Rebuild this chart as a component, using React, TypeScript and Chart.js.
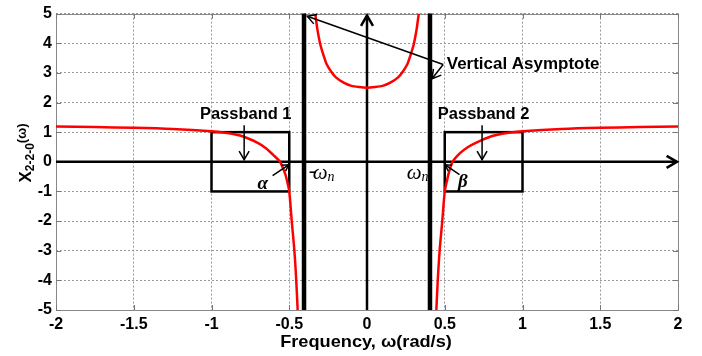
import React, { useEffect, useRef } from "react";
import { Chart, registerables } from "chart.js";
Chart.register(...registerables);

// Curve samples
const leftX = [-2, -1.75, -1.5, -1.25, -1, -0.9, -0.8, -0.7, -0.65, -0.6, -0.56, -0.53, -0.515, -0.5, -0.484, -0.467, -0.455, -0.446];
const leftY = [1.19, 1.17, 1.15, 1.11, 1.03, 0.97, 0.86, 0.63, 0.46, 0.22, 0, -0.35, -0.62, -1, -2, -3, -4, -5];
const centerX = [-0.333, -0.32, -0.31, -0.3, -0.28, -0.26, -0.23, -0.2, -0.15, -0.1, -0.05, 0, 0.05, 0.1, 0.15, 0.2, 0.23, 0.26, 0.28, 0.3, 0.31, 0.32, 0.333];
const centerY = [5, 4.5, 4.2, 3.95, 3.6, 3.3, 3.04, 2.85, 2.67, 2.56, 2.52, 2.5, 2.52, 2.56, 2.67, 2.85, 3.04, 3.3, 3.6, 3.95, 4.2, 4.5, 5];
const rightX = [0.446, 0.455, 0.467, 0.484, 0.5, 0.515, 0.53, 0.55, 0.6, 0.65, 0.7, 0.8, 0.9, 1, 1.25, 1.5, 1.75, 2];
const rightY = [-5, -4, -3, -2, -1, -0.62, -0.3, 0, 0.3, 0.5, 0.64, 0.86, 0.97, 1.03, 1.11, 1.15, 1.17, 1.19];

const asymptotes = [-0.405, 0.405];
const passbands = [[-1, -0.5], [0.5, 1]];
const passbandY = [-1, 1];
const xMin = -2, xMax = 2, xStep = 0.5;
const yMin = -5, yMax = 5, yStep = 1;

const FONT = "'Liberation Sans', Arial, sans-serif";
const SERIF = "'Liberation Serif', 'Times New Roman', serif";

function zip(xs: number[], ys: number[]) {
  return xs.map((x, i) => ({ x, y: ys[i] }));
}

function arrowHead(ctx: CanvasRenderingContext2D, x1: number, y1: number, x2: number, y2: number, len: number, ang: number) {
  const a = Math.atan2(y2 - y1, x2 - x1);
  ctx.beginPath();
  ctx.moveTo(x2 - len * Math.cos(a - ang), y2 - len * Math.sin(a - ang));
  ctx.lineTo(x2, y2);
  ctx.lineTo(x2 - len * Math.cos(a + ang), y2 - len * Math.sin(a + ang));
  ctx.stroke();
}

function arrow(ctx: CanvasRenderingContext2D, x1: number, y1: number, x2: number, y2: number, w: number, len: number) {
  ctx.lineWidth = w;
  ctx.beginPath();
  ctx.moveTo(x1, y1);
  ctx.lineTo(x2, y2);
  ctx.stroke();
  arrowHead(ctx, x1, y1, x2, y2, len, Math.PI / 6);
}

function stretchText(ctx: CanvasRenderingContext2D, t: string, x: number, y: number, sx: number, align: "left" | "center") {
  ctx.save();
  ctx.translate(x, y);
  ctx.scale(sx, 1);
  ctx.textAlign = align;
  ctx.fillText(t, 0, 0);
  ctx.restore();
}

const backPlugin = {
  id: "back",
  beforeDatasetsDraw(chart: any) {
    const { ctx, chartArea, scales } = chart;
    const xs = scales.x, ys = scales.y;
    const P = (x: number, y: number) => [xs.getPixelForValue(x), ys.getPixelForValue(y)];
    ctx.save();
    // frame
    ctx.strokeStyle = "#888";
    ctx.lineWidth = 1;
    ctx.strokeRect(Math.round(chartArea.left) + 0.5, Math.round(chartArea.top) + 0.5,
      Math.round(chartArea.right - chartArea.left), Math.round(chartArea.bottom - chartArea.top));
    // inner ticks
    ctx.strokeStyle = "#777";
    for (let v = xMin; v <= xMax + 1e-9; v += xStep) {
      const px = Math.round(xs.getPixelForValue(v)) + 0.5;
      ctx.beginPath();
      ctx.moveTo(px, chartArea.bottom); ctx.lineTo(px, chartArea.bottom - 5);
      ctx.moveTo(px, chartArea.top); ctx.lineTo(px, chartArea.top + 5);
      ctx.stroke();
    }
    for (let v = yMin; v <= yMax + 1e-9; v += yStep) {
      const py = Math.round(ys.getPixelForValue(v)) + 0.5;
      ctx.beginPath();
      ctx.moveTo(chartArea.left, py); ctx.lineTo(chartArea.left + 5, py);
      ctx.moveTo(chartArea.right, py); ctx.lineTo(chartArea.right - 5, py);
      ctx.stroke();
    }
    ctx.strokeStyle = "#000";
    // asymptotes
    ctx.lineWidth = 4.5;
    asymptotes.forEach((a) => {
      const px = xs.getPixelForValue(a);
      ctx.beginPath();
      ctx.moveTo(px, chartArea.top);
      ctx.lineTo(px, chartArea.bottom);
      ctx.stroke();
    });
    // axes with arrows
    const [x0, y0] = P(0, 0);
    ctx.lineWidth = 2.5;
    ctx.beginPath();
    ctx.moveTo(chartArea.left, y0);
    ctx.lineTo(chartArea.right - 1, y0);
    ctx.stroke();
    arrowHead(ctx, chartArea.left, y0, chartArea.right - 1, y0, 12, Math.PI / 6);
    ctx.beginPath();
    ctx.moveTo(x0, chartArea.bottom);
    ctx.lineTo(x0, chartArea.top + 2);
    ctx.stroke();
    arrowHead(ctx, x0, chartArea.bottom, x0, chartArea.top + 2, 12, Math.PI / 6);
    // passband boxes
    ctx.lineWidth = 2.5;
    passbands.forEach(([a, b]) => {
      const [pa, pt] = P(a, passbandY[1]);
      const [pb, pbm] = P(b, passbandY[0]);
      ctx.strokeRect(pa, pt, pb - pa, pbm - pt);
    });
    ctx.restore();
  },
  afterDatasetsDraw(chart: any) {
    const { ctx, scales } = chart;
    const xs = scales.x, ys = scales.y;
    const P = (x: number, y: number) => [xs.getPixelForValue(x), ys.getPixelForValue(y)];
    ctx.save();
    ctx.strokeStyle = "#000";
    ctx.fillStyle = "#000";
    // passband arrows
    let a = P(-0.79, 1.23), b = P(-0.79, 0.07);
    arrow(ctx, a[0], a[1], b[0], b[1], 1.5, 10);
    a = P(0.74, 1.23); b = P(0.74, 0.07);
    arrow(ctx, a[0], a[1], b[0], b[1], 1.5, 10);
    // asymptote arrows
    const s = P(0.49, 3.28);
    let e = P(-0.384, 4.91);
    arrow(ctx, s[0], s[1], e[0], e[1], 1.5, 10);
    e = P(0.418, 2.8);
    arrow(ctx, s[0], s[1], e[0], e[1], 1.5, 10);
    // alpha / beta arrows
    a = P(-0.607, -0.47); b = P(-0.504, -0.1);
    arrow(ctx, a[0], a[1], b[0], b[1], 1.5, 7);
    a = P(0.595, -0.43); b = P(0.503, -0.1);
    arrow(ctx, a[0], a[1], b[0], b[1], 1.5, 7);

    // labels
    ctx.textBaseline = "middle";
    ctx.font = `bold 16px ${FONT}`;
    let p = P(-0.78, 1.58);
    stretchText(ctx, "Passband 1", p[0], p[1], 1.03, "center");
    p = P(0.75, 1.58);
    stretchText(ctx, "Passband 2", p[0], p[1], 1.03, "center");
    p = P(0.513, 3.29);
    stretchText(ctx, "Vertical Asymptote", p[0], p[1], 1.06, "left");

    // omega_n labels
    ctx.textAlign = "left";
    ctx.font = `italic 21px ${SERIF}`;
    p = P(-0.375, -0.38);
    ctx.fillText("-", p[0], p[1] - 2);
    ctx.fillText("\u03c9", p[0] + 4, p[1]);
    let w = ctx.measureText("\u03c9").width;
    ctx.font = `italic 14px ${SERIF}`;
    ctx.fillText("n", p[0] + 4 + w, p[1] + 4);
    ctx.font = `italic 21px ${SERIF}`;
    p = P(0.255, -0.38);
    ctx.fillText("\u03c9", p[0], p[1]);
    w = ctx.measureText("\u03c9").width;
    ctx.font = `italic 14px ${SERIF}`;
    ctx.fillText("n", p[0] + w, p[1] + 4);
    ctx.font = `italic bold 19px ${SERIF}`;
    ctx.textAlign = "center";
    p = P(-0.67, -0.76);
    ctx.fillText("\u03b1", p[0], p[1]);
    p = P(0.616, -0.68);
    ctx.fillText("\u03b2", p[0], p[1]);

    // x title
    ctx.font = `bold 17px ${FONT}`;
    stretchText(ctx, "Frequency, \u03c9(rad/s)", 366, 342, 1.07, "center");

    // y title (rotated)
    ctx.translate(31, 153);
    ctx.rotate(-Math.PI / 2);
    ctx.textBaseline = "alphabetic";
    ctx.textAlign = "left";
    const parts: [string, string, number][] = [
      ["X", `bold 17px ${FONT}`, 0],
      ["2-2-0", `bold 12px ${FONT}`, 3],
      ["(\u03c9)", `bold 13px ${FONT}`, -5],
    ];
    let total = 0;
    parts.forEach(([t, f]) => { ctx.font = f; total += ctx.measureText(t).width; });
    let cx = -total / 2;
    parts.forEach(([t, f, dy]) => {
      ctx.font = f;
      ctx.fillText(t, cx, dy);
      cx += ctx.measureText(t).width;
    });
    ctx.restore();
  },
};

export default function App() {
  const ref = useRef<HTMLCanvasElement>(null);
  useEffect(() => {
    if (!ref.current) return;
    const red = "#ff0000";
    const ds = (data: any) => ({
      data,
      showLine: true,
      borderColor: red,
      backgroundColor: red,
      borderWidth: 2.5,
      pointRadius: 0,
      tension: 0.25,
    });
    const chart = new Chart(ref.current, {
      type: "scatter",
      data: {
        datasets: [ds(zip(leftX, leftY)), ds(zip(centerX, centerY)), ds(zip(rightX, rightY))],
      },
      options: {
        animation: false,
        responsive: false,
        maintainAspectRatio: false,
        layout: { padding: { top: 11, right: 24, left: 0, bottom: 0 } },
        plugins: { legend: { display: false }, tooltip: { enabled: false } },
        scales: {
          x: {
            type: "linear",
            min: xMin,
            max: xMax,
            afterFit: (s: any) => { s.height = 46; },
            afterBuildTicks: (s: any) => {
              const t = [];
              for (let v = xMin; v <= xMax + 1e-9; v += xStep) t.push({ value: +v.toFixed(2) });
              s.ticks = t;
            },
            ticks: {
              padding: 5,
              color: "#000",
              font: { family: FONT, size: 16, weight: "bold" },
              maxRotation: 0,
              autoSkip: false,
              callback: (v: any) => String(+(+v).toFixed(2)),
            },
            grid: { color: "#999", lineWidth: 1, drawTicks: false },
            border: { display: false, dash: [2, 2] } as any,
          },
          y: {
            type: "linear",
            min: yMin,
            max: yMax,
            afterFit: (s: any) => { s.width = 56; },
            ticks: {
              stepSize: yStep,
              padding: 4,
              color: "#000",
              font: { family: FONT, size: 16, weight: "bold" },
            },
            grid: { color: "#999", lineWidth: 1, drawTicks: false },
            border: { display: false, dash: [2, 2] } as any,
          },
        },
      },
      plugins: [backPlugin],
    });
    return () => chart.destroy();
  }, []);
  return (
    <div style={{ position: "absolute", left: 0, top: 0, width: 702, height: 356, background: "#fff" }}>
      <canvas ref={ref} width={702} height={356} style={{ display: "block" }} />
    </div>
  );
}
